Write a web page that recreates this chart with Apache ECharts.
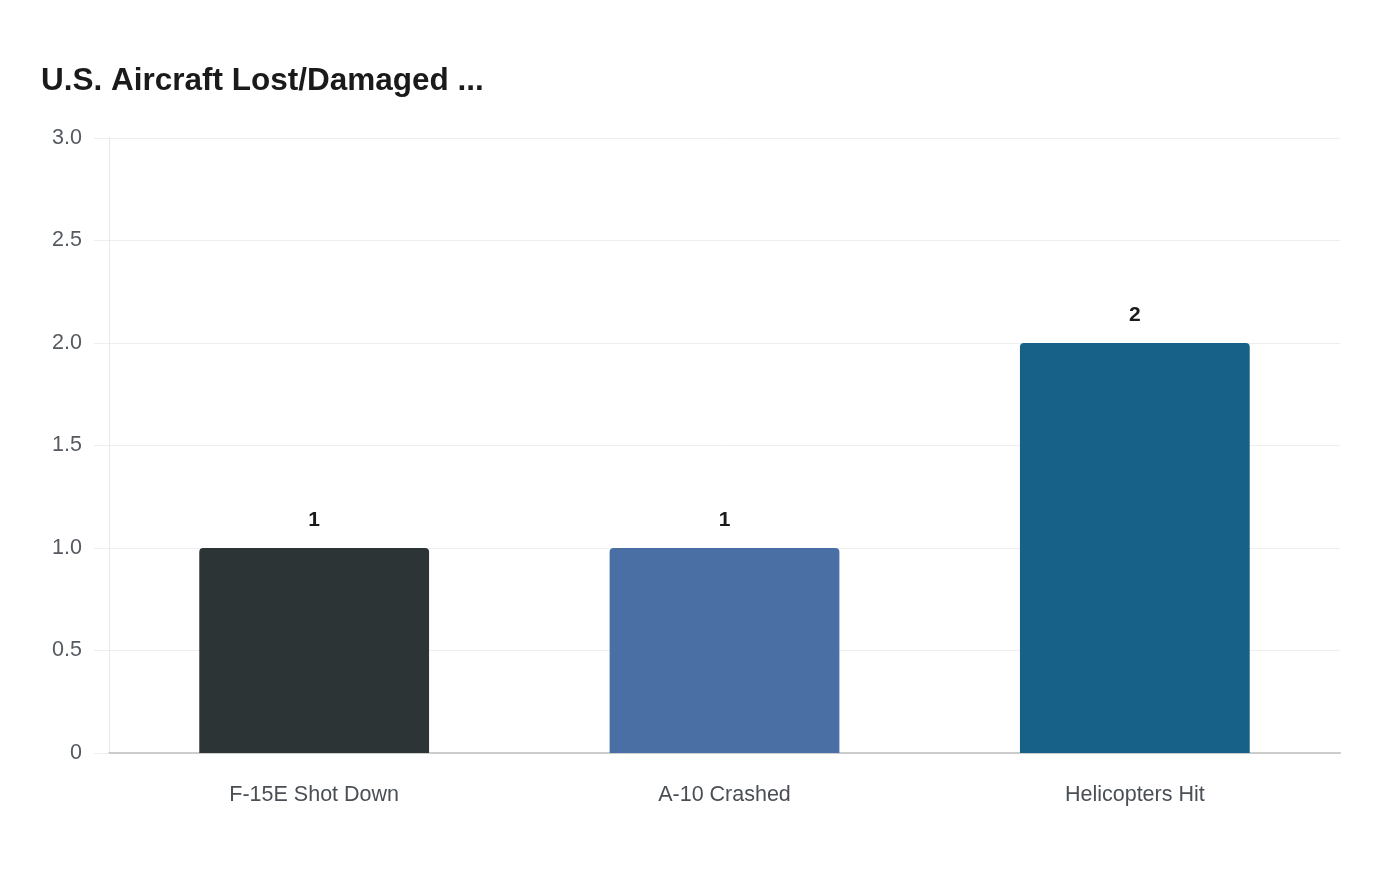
<!DOCTYPE html>
<html>
<head>
<meta charset="utf-8">
<script src="https://cdn.jsdelivr.net/npm/echarts@6/dist/echarts.min.js"></script>
<style>
  html, body { margin: 0; padding: 0; background: #fff; }
  #chart { width: 1400px; height: 880px; }
</style>
</head>
<body>
<div id="chart"></div>
<script>
var categories = ['F-15E Shot Down', 'A-10 Crashed', 'Helicopters Hit'];
var counts = [1, 1, 2];
var barColors = ['#2d3436', '#4a6fa5', '#176087'];

var FONT = '"Liberation Sans", Arial, Helvetica, sans-serif';

var chart = echarts.init(document.getElementById('chart'));
var option = {
    backgroundColor: '#ffffff',
    title: {
        text: 'U.S. Aircraft Lost/Damaged ...',
        left: 36,
        top: 60,
        textStyle: { fontFamily: FONT, fontSize: 31.5, fontWeight: 'bold', color: '#1a1a1a' }
    },
    grid: { left: 109, right: 60, top: 138, bottom: 127 },
    xAxis: {
        type: 'category',
        data: categories,
        axisLine: { lineStyle: { color: '#cccccc', width: 2 } },
        axisTick: { show: false },
        axisLabel: { margin: 31, fontFamily: FONT, fontSize: 21.5, color: '#4a4f55' }
    },
    yAxis: {
        type: 'value',
        min: 0,
        max: 3,
        interval: 0.5,
        axisLine: { show: true, lineStyle: { color: '#e3e3e3', type: 'dotted' } },
        axisTick: { show: true, length: 15, lineStyle: { color: '#eeeeee' } },
        splitLine: { lineStyle: { color: '#eeeeee' } },
        axisLabel: {
            margin: 27,
            fontFamily: FONT, fontSize: 21.5, color: '#555a60',
            formatter: function (v) { return v === 0 ? '0' : v.toFixed(1); }
        }
    },
    series: [{
        type: 'bar',
        barWidth: '56%',
        data: counts.map(function (v, i) {
            return { value: v, itemStyle: { color: barColors[i] } };
        }),
        itemStyle: { borderRadius: [4, 4, 0, 0] },
        label: {
            show: true,
            position: 'top',
            distance: 17,
            fontFamily: FONT, fontSize: 21, fontWeight: 'bold', color: '#1a1a1a'
        }
    }]
};
chart.setOption(option);
</script>
</body>
</html>
